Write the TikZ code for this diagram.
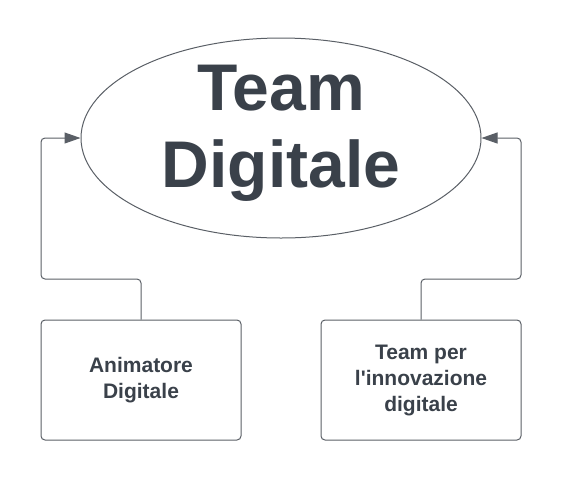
\documentclass[tikz,border=0pt]{standalone}
\usepackage{fontspec}
\setmainfont{Liberation Sans}
\usetikzlibrary{positioning,arrows.meta,shapes.geometric}
\definecolor{tdtext}{HTML}{3A414A}
\definecolor{tdline}{HTML}{5A5F66}

\tikzset{
  rolebox/.style={draw=tdline, line width=1pt, rounded corners=4pt,
    minimum width=200pt, minimum height=120pt, inner sep=0pt,
    align=center, text=tdtext, font=\fontsize{21}{26}\selectfont\bfseries},
  feed/.style={draw=tdline, line width=1pt, rounded corners=4pt,
    -{Triangle[length=16pt,width=11pt]}}
}

\begin{document}
\begin{tikzpicture}[x=1pt,y=-1pt]
  \useasboundingbox (0,0) rectangle (561,480);
  % central ellipse
  \node[ellipse, draw=tdline, line width=1pt, minimum width=400pt,
    minimum height=200pt, inner sep=0pt] (team) at (281,138) {};
  \node[align=center, text=tdtext, inner sep=0pt,
    font=\fontsize{66}{77}\selectfont\bfseries]
    (teamlabel) at ([yshift=5pt]team.center) {Team\\Digitale};
  % the two boxes
  \node[rolebox] (anim) at (141,380) {Animatore\\Digitale};
  \node[rolebox] (innov) at (421,380) {Team per\\l\textquotesingle innovazione\\digitale};
  % connectors
  \coordinate (lbend) at (41,279);
  \coordinate (rbend) at (521,279);
  \draw[feed] (anim.north) |- (lbend) |- (team.west);
  \draw[feed] (innov.north) |- (rbend) |- (team.east);
\end{tikzpicture}
\end{document}
